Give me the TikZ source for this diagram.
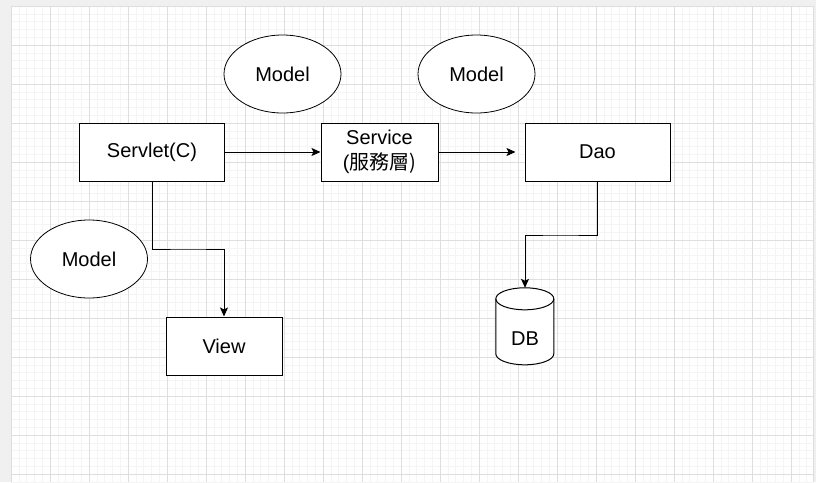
\documentclass[tikz,border=0pt]{standalone}
\usepackage{fontspec}
\setmainfont{Liberation Sans}
\newfontfamily\cjkfont{Noto Sans CJK TC}
\usetikzlibrary{arrows.meta,shapes.geometric}
\definecolor{pagegray}{HTML}{F0F0F0}
\definecolor{majorgrid}{HTML}{DEDEDE}
\definecolor{minorgrid}{HTML}{F4F4F4}
\begin{document}
\begin{tikzpicture}[x=1pt,y=-1pt,
    font=\fontsize{20}{23}\selectfont,
    box/.style={draw,line width=1pt,fill=white,minimum width=145pt,minimum height=58pt,inner sep=0pt},
    model/.style={draw,line width=0.8pt,ellipse,fill=white,minimum width=117pt,minimum height=78pt,inner sep=0pt},
    db/.style={minimum width=58pt,minimum height=77pt,inner sep=0pt},
    link/.style={line width=1pt,-{Stealth[length=9pt,width=8pt,inset=2pt]}}]
  \useasboundingbox (0,0) rectangle (816,482);
  \fill[pagegray] (0,0) rectangle (816,482);
  \fill[white] (11,6) rectangle (813,482);
  % grid
  \foreach \gx in {11,18.8,...,813} \draw[minorgrid,line width=0.5pt] (\gx,6) -- (\gx,482);
  \foreach \gy in {6,13.8,...,482} \draw[minorgrid,line width=0.5pt] (11,\gy) -- (813,\gy);
  \foreach \gx in {11,50,...,813} \draw[majorgrid,line width=0.6pt] (\gx,6) -- (\gx,482);
  \foreach \gy in {6,45,...,482} \draw[majorgrid,line width=0.6pt] (11,\gy) -- (813,\gy);
  \draw[majorgrid,line width=0.8pt] (11,6) -- (813,6) -- (813,482) (11,6) -- (11,482);

  \node[box] (servlet) at (152,152) {Servlet(C)};
  \node[box,minimum width=117pt,align=center] (service) at (379.5,152)
    {Service\\[2pt](\cjkfont 服務層)};
  \node[box] (dao) at (597.5,152) {Dao};
  \node[box,minimum width=116pt] (view) at (224,346) {View};
  \node[model] (model1) at (282.5,74) {Model};
  \node[model] (model2) at (476.5,74) {Model};
  \node[model] (model3) at (89,259) {Model};
  \node[db] (db) at (525,326.5) {};
  % cylinder outline
  \draw[line width=1pt,fill=white] (db.north west) ++(0,11) -- ++(0,55)
    arc[start angle=180,end angle=360,x radius=29,y radius=-11] -- ++(0,-55)
    arc[start angle=0,end angle=180,x radius=29,y radius=-11];
  \draw[line width=1pt] (db.north west) ++(0,11)
    arc[start angle=180,end angle=360,x radius=29,y radius=-11];
  \node (dblabel) at (525,339) {DB};

  \begin{scope}[link]
    \draw (servlet) to (service);
    \draw[shorten >=9pt] (service) to (dao);
    \draw (servlet.south) |- (188,249) -| (view.north);
    \draw (dao.south) |- (560,235) -| (db.north);
  \end{scope}
\end{tikzpicture}
\end{document}
